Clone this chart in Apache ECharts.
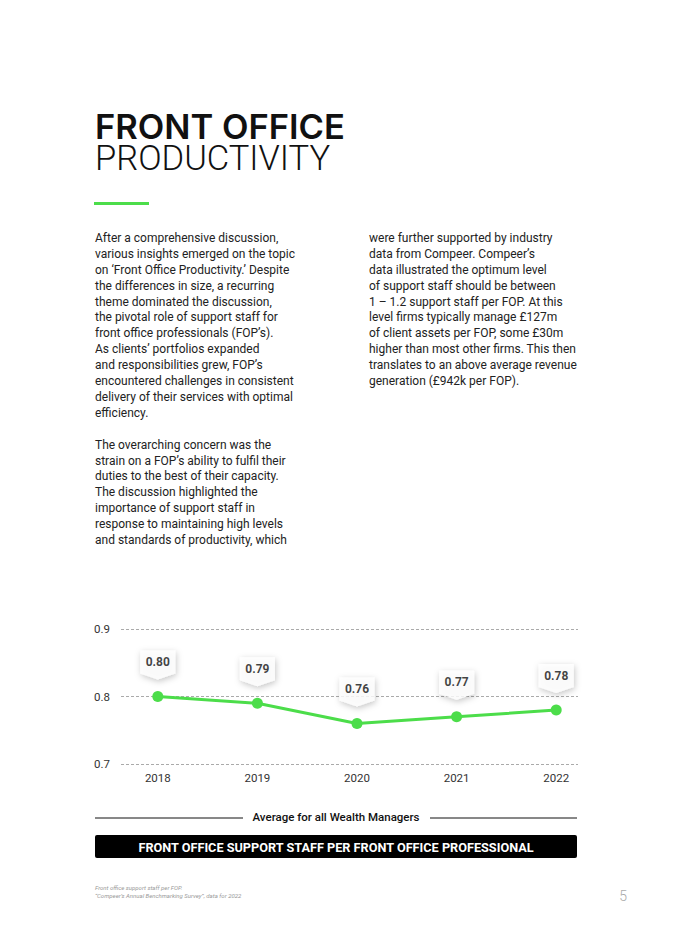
<!DOCTYPE html>
<html><head><meta charset="utf-8">
<script src="https://cdn.jsdelivr.net/npm/echarts@6/dist/echarts.min.js"></script>
<style>html,body{margin:0;padding:0;background:#fff;}#c{width:674px;height:949px;}</style>
</head><body><div id="c"></div>
<script>
const years = ['2018','2019','2020','2021','2022'];
const supportPerFOP = [0.80, 0.79, 0.76, 0.77, 0.78];
const yMin = 0.7, yMax = 0.9, yStep = 0.1;

const titleLine1 = 'FRONT OFFICE';
const titleLine2 = 'PRODUCTIVITY';
const col1 = [
 'After a comprehensive discussion,',
 'various insights emerged on the topic',
 'on \u2018Front Office Productivity.\u2019 Despite',
 'the differences in size, a recurring',
 'theme dominated the discussion,',
 'the pivotal role of support staff for',
 'front office professionals (FOP\u2019s).',
 'As clients\u2019 portfolios expanded',
 'and responsibilities grew, FOP\u2019s',
 'encountered challenges in consistent',
 'delivery of their services with optimal',
 'efficiency.',
 '',
 'The overarching concern was the',
 'strain on a FOP\u2019s ability to fulfil their',
 'duties to the best of their capacity.',
 'The discussion highlighted the',
 'importance of support staff in',
 'response to maintaining high levels',
 'and standards of productivity, which'
];
const col2 = [
 'were further supported by industry',
 'data from Compeer. Compeer\u2019s',
 'data illustrated the optimum level',
 'of support staff should be between',
 '1 \u2013 1.2 support staff per FOP. At this',
 'level firms typically manage \u00a3127m',
 'of client assets per FOP, some \u00a330m',
 'higher than most other firms. This then',
 'translates to an above average revenue',
 'generation (\u00a3942k per FOP).'
];
const legendText = 'Average for all Wealth Managers';
const bannerText = 'FRONT OFFICE SUPPORT STAFF PER FRONT OFFICE PROFESSIONAL';
const footnotes = ['Front office support staff per FOP.', '\u201cCompeer\u2019s Annual Benchmarking Survey\u201d, data for 2022'];
const pageNum = '5';

const GREEN = '#4cdd4a';
const FONT = 'Roboto, Inter, sans-serif';
const TFONT = 'Inter, Roboto, sans-serif';
const chart = echarts.init(document.getElementById('c'), null, {renderer: 'svg'});

const calloutPath = 'path://M0,0 L35,0 L35,23 L17.5,29 L0,23 Z';

chart.setOption({
  animation: false,
  textStyle: {fontFamily: FONT},
  grid: [
    {left: 121, width: 457, top: 629, height: 135},
    {left: 108, width: 498, top: 629, height: 135}
  ],
  xAxis: [
    {type: 'category', gridIndex: 0, data: years, show: false},
    {type: 'category', gridIndex: 1, data: years, boundaryGap: true,
     axisLine: {show: false}, axisTick: {show: false},
     axisLabel: {color: '#333', fontSize: 11.5, margin: 8, fontFamily: FONT}}
  ],
  yAxis: [
    {type: 'value', gridIndex: 0, min: yMin, max: yMax, interval: yStep,
     axisLine: {show: false}, axisTick: {show: false},
     axisLabel: {color: '#333', fontSize: 11.5, margin: 11, fontFamily: FONT, formatter: v => v.toFixed(1)},
     splitLine: {lineStyle: {color: '#aaa', type: [3, 2], width: 1}}},
    {type: 'value', gridIndex: 1, min: yMin, max: yMax, interval: yStep, show: false, splitLine: {show: false}}
  ],
  series: [
    {type: 'line', xAxisIndex: 1, yAxisIndex: 1, data: supportPerFOP,
     lineStyle: {color: GREEN, width: 3}, itemStyle: {color: GREEN},
     symbol: 'circle', symbolSize: 11, showSymbol: true, z: 3},
    {type: 'scatter', xAxisIndex: 1, yAxisIndex: 1, data: supportPerFOP,
     symbol: calloutPath, symbolSize: [35, 29], symbolOffset: [0, -31.5], z: 2,
     itemStyle: {color: '#fff', shadowBlur: 6, shadowColor: 'rgba(0,0,0,0.28)', shadowOffsetX: 1, shadowOffsetY: 2},
     label: {show: true, position: 'inside', offset: [0, -3], color: '#111', fontWeight: 'bold', fontSize: 12,
       fontFamily: FONT, formatter: p => p.value.toFixed(2)}}
  ],
  graphic: [
    {type: 'text', x: 95, y: 142, style: {
      text: '{b|' + titleLine1 + '}\n{l|' + titleLine2 + '}',
      verticalAlign: 'middle', fill: '#111',
      rich: {
        b: {font: '600 34.5px ' + TFONT, lineHeight: 32, fill: '#111'},
        l: {font: '300 34.5px ' + FONT, lineHeight: 32, fill: '#111'}
      }}},
    {type: 'rect', shape: {x: 94, y: 202, width: 55, height: 3}, style: {fill: GREEN}},
    {type: 'text', left: 95, top: 230, style: {text: col1.join('\n'), font: '12px ' + FONT, lineHeight: 15.9, fill: '#222'}},
    {type: 'text', left: 369, top: 230, style: {text: col2.join('\n'), font: '12px ' + FONT, lineHeight: 15.9, fill: '#222'}},
    {type: 'line', shape: {x1: 95, y1: 818, x2: 243, y2: 818}, style: {stroke: '#111', lineWidth: 1}},
    {type: 'line', shape: {x1: 430, y1: 818, x2: 577, y2: 818}, style: {stroke: '#111', lineWidth: 1}},
    {type: 'text', x: 336, y: 817, style: {text: legendText, font: '500 11.5px ' + FONT, fill: '#111', align: 'center', verticalAlign: 'middle'}},
    {type: 'rect', shape: {x: 95, y: 835, width: 482, height: 23, r: 2}, style: {fill: '#000'}},
    {type: 'text', x: 336, y: 847, style: {text: bannerText, font: 'bold 12.7px ' + FONT, fill: '#fff', align: 'center', verticalAlign: 'middle'}},
    {type: 'text', left: 95, top: 884, style: {text: footnotes.join('\n'), font: 'italic 6px ' + FONT, lineHeight: 7.5, fill: '#999'}},
    {type: 'text', x: 623, y: 896, style: {text: pageNum, font: '300 14px ' + FONT, fill: '#aaa', align: 'center', verticalAlign: 'middle'}}
  ]
});
</script></body></html>
